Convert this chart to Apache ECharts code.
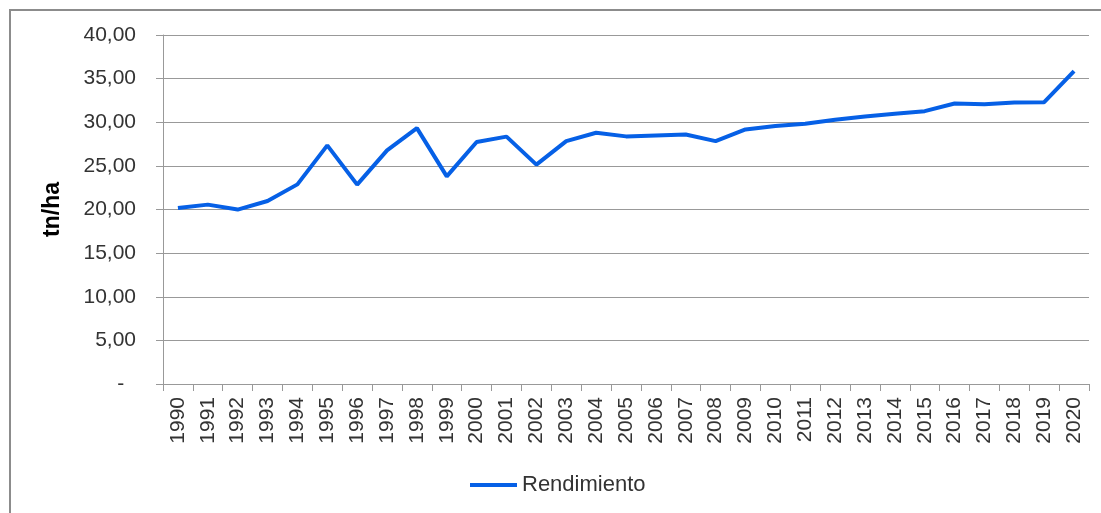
<!DOCTYPE html>
<html lang="es">
<head>
    <meta charset="utf-8">
    <title>Rendimiento</title>
    <script src="https://cdn.jsdelivr.net/npm/echarts@6/dist/echarts.min.js"></script>
    <style>
        html, body { margin: 0; padding: 0; background: #fff; }
        #main { width: 1101px; height: 513px; }
    </style>
</head>
<body>
    <div id="main"></div>
    <script type="text/javascript">
    // años y rendimiento (tn/ha)
    var anios = ['1990','1991','1992','1993','1994','1995','1996','1997','1998','1999',
                 '2000','2001','2002','2003','2004','2005','2006','2007','2008','2009',
                 '2010','2011','2012','2013','2014','2015','2016','2017','2018','2019','2020'];
    var rendimiento = [20.17, 20.56, 19.99, 20.97, 22.88, 27.35, 22.85, 26.77, 29.33, 23.80,
                       27.73, 28.35, 25.14, 27.84, 28.80, 28.38, 28.49, 28.60, 27.84, 29.18,
                       29.56, 29.82, 30.28, 30.66, 30.97, 31.27, 32.15, 32.05, 32.27, 32.30, 35.85];

    var fuente = '"Liberation Sans", Arial, sans-serif';
    var gris = '#999999';

    var myChart = echarts.init(document.getElementById('main'));

    myChart.setOption({
        animation: false,
        textStyle: { fontFamily: fuente },
        graphic: [{
            type: 'rect',
            shape: { x: 10, y: 10, width: 1200, height: 600 },
            style: { fill: 'none', stroke: '#8c8c8c', lineWidth: 2 },
            z: -1
        }],
        grid: { left: 163, right: 12, top: 35, bottom: 129, containLabel: false },
        legend: {
            data: [{ name: 'Rendimiento', icon: 'rect' }],
            left: 470,
            top: 474,
            padding: 0,
            itemWidth: 47,
            itemHeight: 4,
            itemStyle: { color: '#0660e6' },
            textStyle: { fontFamily: fuente, fontSize: 22, color: '#333' }
        },
        xAxis: {
            type: 'category',
            data: anios,
            boundaryGap: true,
            axisLine: { lineStyle: { color: gris, width: 1 } },
            axisTick: { show: true, length: 7, lineStyle: { color: gris } },
            axisLabel: { rotate: 90, margin: 13, fontSize: 21, color: '#333', interval: 0, fontFamily: fuente }
        },
        yAxis: {
            type: 'value',
            min: 0,
            max: 40,
            interval: 5,
            name: 'tn/ha',
            nameLocation: 'middle',
            nameRotate: 90,
            nameGap: 99,
            nameTextStyle: { fontSize: 23, fontWeight: 'bold', color: '#000', fontFamily: fuente },
            axisLine: { show: true, lineStyle: { color: gris, width: 1 } },
            axisTick: { show: true, length: 7, lineStyle: { color: gris } },
            splitLine: { lineStyle: { color: gris, width: 1 } },
            axisLabel: {
                margin: 27,
                fontSize: 21,
                color: '#333',
                fontFamily: fuente,
                formatter: function (v) {
                    if (v === 0) return '-  ';
                    return v.toFixed(2).replace('.', ',');
                }
            }
        },
        series: [{
            name: 'Rendimiento',
            type: 'line',
            data: rendimiento,
            symbol: 'none',
            lineStyle: { color: '#0660e6', width: 4 },
            itemStyle: { color: '#0660e6' }
        }]
    });
    </script>
</body>
</html>
